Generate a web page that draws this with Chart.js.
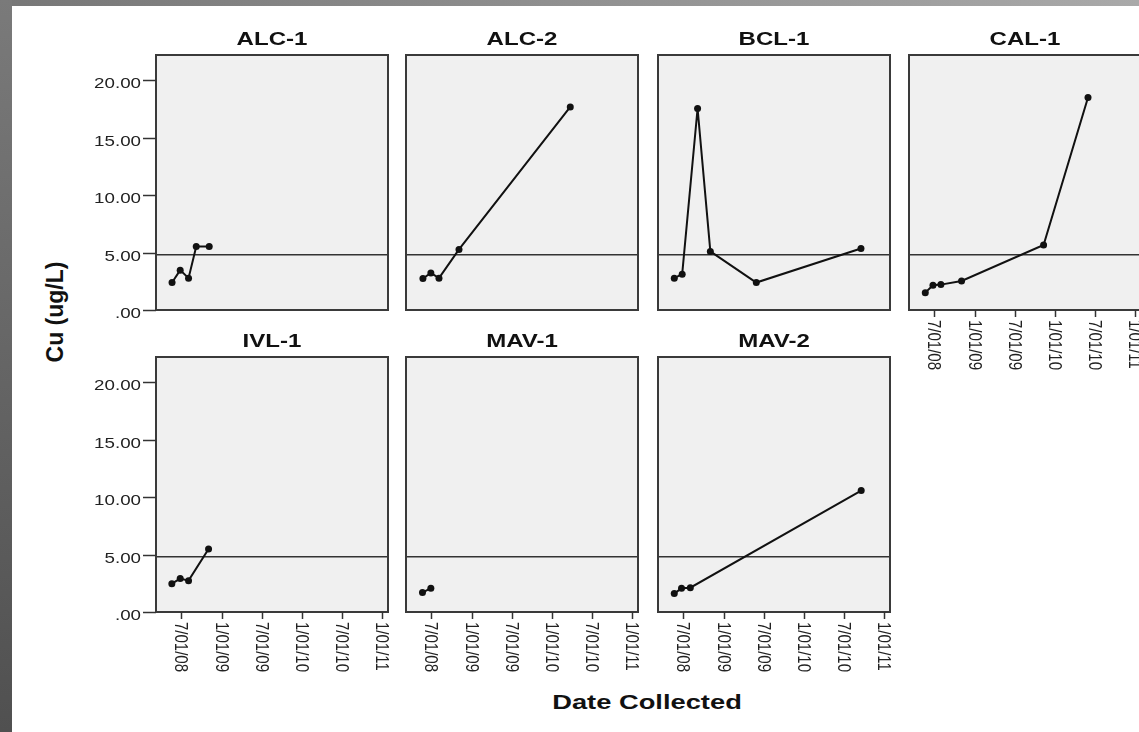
<!DOCTYPE html>
<html><head><meta charset="utf-8">
<script src="https://cdn.jsdelivr.net/npm/chart.js@4"></script>
<style>
html,body{margin:0;padding:0;background:#fff;overflow:hidden;}
#wrap{position:relative;width:1139px;height:732px;overflow:hidden;background:#fff;}
#topbar{position:absolute;left:0;top:0;width:1139px;height:6px;background:linear-gradient(to right,#777,#a9a9a9);}
#leftbar{position:absolute;left:0;top:0;width:12px;height:732px;background:linear-gradient(to bottom,#7a7a7a,#505050);}
canvas{position:absolute;}
.ax{position:absolute;font-family:"Liberation Sans",Arial,sans-serif;font-weight:bold;white-space:nowrap;line-height:1;color:#111;}
</style></head>
<body><div id="wrap"><div id="topbar"></div><div id="leftbar"></div>
<div class="ax" id="ytitle" style="left:55px;top:312px;font-size:23px;transform:translate(-50%,-50%) scaleX(1.05) rotate(-90deg);">Cu (ug/L)</div>
<div class="ax" id="xtitle" style="left:647px;top:701px;font-size:21px;transform:translate(-50%,-50%) scaleX(1.3);">Date Collected</div>
</div>
<script>
// ---- data ----
const sites = ['ALC-1', 'ALC-2', 'BCL-1', 'CAL-1', 'IVL-1', 'MAV-1', 'MAV-2'];
const alc1Dates = ['2008-05-20','2008-06-26','2008-08-03','2008-09-07','2008-11-05'];
const alc1Cu    = [2.39, 3.47, 2.77, 5.53, 5.53];
const alc2Dates = ['2008-05-24','2008-06-29','2008-08-05','2008-11-04','2010-03-25'];
const alc2Cu    = [2.74, 3.23, 2.77, 5.27, 17.68];
const bcl1Dates = ['2008-05-21','2008-06-26','2008-09-04','2008-11-01','2009-05-29','2010-09-17'];
const bcl1Cu    = [2.77, 3.12, 17.54, 5.10, 2.39, 5.36];
const cal1Dates = ['2008-05-21','2008-06-25','2008-07-31','2008-11-02','2009-11-10','2010-05-31'];
const cal1Cu    = [1.51, 2.16, 2.21, 2.53, 5.66, 18.50];
const ivl1Dates = ['2008-05-19','2008-06-26','2008-08-03','2008-11-02'];
const ivl1Cu    = [2.47, 2.91, 2.73, 5.48];
const mav1Dates = ['2008-05-22','2008-06-29'];
const mav1Cu    = [1.69, 2.07];
const mav2Dates = ['2008-05-21','2008-06-23','2008-08-02','2010-09-18'];
const mav2Cu    = [1.60, 2.07, 2.12, 10.57];
const siteDates = [alc1Dates, alc2Dates, bcl1Dates, cal1Dates, ivl1Dates, mav1Dates, mav2Dates];
const siteCu    = [alc1Cu, alc2Cu, bcl1Cu, cal1Cu, ivl1Cu, mav1Cu, mav2Cu];
const limitCu = 4.8;
const yTickValues = [0, 5, 10, 15, 20];
const yTickLabels = ['.00', '5.00', '10.00', '15.00', '20.00'];
const xTickDates  = ['2008-07-01','2009-01-01','2009-07-01','2010-01-01','2010-07-01','2011-01-01'];
const xTickLabels = ['7/01/08','1/01/09','7/01/09','1/01/10','7/01/10','1/01/11'];
const xRangeDates = ['2008-03-08', '2011-01-27'];
const yRange = [0, 22.2];

// ---- helpers ----
const EPOCH = Date.parse('2008-01-01');
const toDay = s => (Date.parse(s) - EPOCH) / 86400000;
const FONT = '"Liberation Sans", Arial, sans-serif';

function drawText(ctx, s, x, y, font, align, baseline, sx, rot) {
  ctx.save();
  ctx.translate(x, y);
  ctx.scale(sx, 1);
  if (rot) ctx.rotate(rot);
  ctx.font = font; ctx.textAlign = align; ctx.textBaseline = baseline;
  ctx.fillText(s, 0, 0);
  ctx.restore();
}

const panelPlugin = {
  id: 'panel',
  beforeDatasetsDraw(chart) {
    const { ctx, chartArea: a } = chart;
    ctx.save();
    ctx.fillStyle = '#f0f0f0';
    ctx.fillRect(a.left, a.top, a.right - a.left, a.bottom - a.top);
    ctx.restore();
  },
  afterDatasetsDraw(chart, args, opts) {
    const { ctx, chartArea: a } = chart;
    const xs = chart.scales.x, ys = chart.scales.y;
    ctx.save();
    ctx.strokeStyle = '#3a3a3a';
    ctx.lineWidth = 2;
    ctx.strokeRect(a.left, a.top, a.right - a.left, a.bottom - a.top);
    ctx.fillStyle = '#222';
    ctx.strokeStyle = '#333';
    ctx.lineWidth = 1.5;
    if (opts.showY) {
      yTickValues.forEach((v, i) => {
        const y = Math.round(ys.getPixelForValue(v)) + 0.5;
        ctx.beginPath(); ctx.moveTo(a.left - 13, y); ctx.lineTo(a.left, y); ctx.stroke();
        drawText(ctx, yTickLabels[i], a.left - 15, y + 7, '15px ' + FONT, 'right', 'alphabetic', 1.25, 0);
      });
    }
    if (opts.showX) {
      xTickDates.forEach((d, i) => {
        const x = Math.round(xs.getPixelForValue(toDay(d))) + 0.5;
        ctx.beginPath(); ctx.moveTo(x, a.bottom); ctx.lineTo(x, a.bottom + 7); ctx.stroke();
        drawText(ctx, xTickLabels[i], x - 1, a.bottom + 10, '15px ' + FONT, 'left', 'middle', 1.25, Math.PI / 2);
      });
    }
    ctx.fillStyle = '#111';
    drawText(ctx, opts.title, (a.left + a.right) / 2, a.top - 10, 'bold 18.5px ' + FONT, 'center', 'alphabetic', 1.3, 0);
    ctx.restore();
  }
};

// ---- layout ----
const colLeft = [156, 406, 658, 909];
const rowTop = [55, 357];
const panelW = 232, panelH = 255;
const padL = 70, padT = 35, padR = 12, padB = 75;
const wrap = document.getElementById('wrap');

sites.forEach((site, i) => {
  const row = i < 4 ? 0 : 1;
  const col = i < 4 ? i : i - 4;
  const cv = document.createElement('canvas');
  const W = padL + panelW + padR, H = padT + panelH + padB;
  cv.width = W; cv.height = H;
  cv.style.width = W + 'px'; cv.style.height = H + 'px';
  cv.style.left = (colLeft[col] - padL) + 'px';
  cv.style.top = (rowTop[row] - padT) + 'px';
  wrap.appendChild(cv);
  const xMin = toDay(xRangeDates[0]), xMax = toDay(xRangeDates[1]);
  const pts = siteDates[i].map((d, k) => ({ x: toDay(d), y: siteCu[i][k] }));
  new Chart(cv, {
    type: 'line',
    data: {
      datasets: [
        { data: pts, borderColor: '#111', borderWidth: 2, pointRadius: 3.5,
          pointBackgroundColor: '#111', pointBorderWidth: 0, tension: 0, order: 1 },
        { data: [{ x: xMin, y: limitCu }, { x: xMax, y: limitCu }], borderColor: '#333',
          borderWidth: 1.5, pointRadius: 0, order: 2 }
      ]
    },
    options: {
      responsive: false, animation: false, devicePixelRatio: 1,
      layout: { padding: { left: padL, top: padT, right: padR, bottom: padB } },
      scales: {
        x: { type: 'linear', min: xMin, max: xMax, display: false },
        y: { type: 'linear', min: yRange[0], max: yRange[1], display: false }
      },
      plugins: {
        legend: { display: false }, tooltip: { enabled: false },
        panel: { title: site, showY: col === 0, showX: row === 1 || col === 3 }
      }
    },
    plugins: [panelPlugin]
  });
});
</script>
</body></html>
